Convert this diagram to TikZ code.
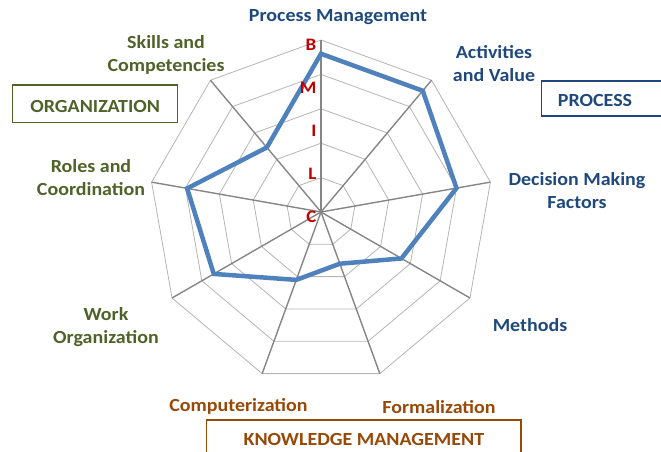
\documentclass[tikz,border=0pt]{standalone}
\usepackage{fontspec}
\setmainfont{Carlito}[FakeStretch=1.08]
\definecolor{orgcol}{HTML}{4F6228}
\definecolor{proccol}{HTML}{1F497D}
\definecolor{kmcol}{HTML}{984807}
\definecolor{levelcol}{HTML}{C00000}
\definecolor{seriescol}{HTML}{4F81BD}
\definecolor{spokecol}{HTML}{868686}
\definecolor{ringcol}{HTML}{B4B4B4}
\begin{document}
\begin{tikzpicture}[x=1pt,y=1pt,
  axislabel/.style={font=\bfseries\fontsize{18.5}{23.5}\selectfont, align=center, inner sep=0pt, yshift=-2.5pt},
  levellabel/.style={font=\bfseries\fontsize{17.5}{17.5}\selectfont, text=levelcol, anchor=east, inner sep=0pt, yshift=-1.5pt},
  groupbox/.style={draw, line width=1.3pt, font=\bfseries\fontsize{18.5}{18.5}\selectfont, inner sep=0pt}]
\useasboundingbox (0,0) rectangle (661,452);
% Set the chart centre and outer radius
\def\rmax{172}

\begin{scope}[shift={(321,240)}]
% Draw the five rings
\foreach \k in {1,...,5}{
  \draw[ringcol, line width=0.8pt] (90:{\k*\rmax/5}) \foreach \a in {50,10,...,-230}{ -- (\a:{\k*\rmax/5})} -- cycle;
}
% Draw the nine spokes
\foreach \a in {90,50,...,-230}{
  \draw[spokecol, line width=1.4pt] (0,0) -- (\a:\rmax);
}
% Draw the series
\draw[seriescol, line width=4.5pt] (90:{0.92*\rmax})
  \foreach \a/\v in {50/0.92, 10/0.80, -30/0.54, -70/0.32, -110/0.42, -150/0.72, -190/0.79, -230/0.49}{ -- (\a:{\v*\rmax})} -- cycle;
% Insert the level letters
\foreach \t [count=\k from 0] in {C,L,I,M,B}{
  \node[levellabel] (lvl\t) at (-4.5,{-3+43*\k}) {\t};
}
\end{scope}

% Axis names
\node[axislabel, text=proccol] (pm) at (338,437) {Process Management};
\node[axislabel, text=proccol] (av) at (494,391) {Activities\\and Value};
\node[axislabel, text=proccol] (dm) at (577,264) {Decision Making\\Factors};
\node[axislabel, text=proccol] (me) at (530,129) {Methods};
\node[axislabel, text=kmcol] (fo) at (439,47) {Formalization};
\node[axislabel, text=kmcol] (co) at (238.5,48) {Computerization};
\node[axislabel, text=orgcol] (wo) at (106,127.5) {Work\\Organization};
\node[axislabel, text=orgcol] (rc) at (91,277) {Roles and\\Coordination};
\node[axislabel, text=orgcol] (sc) at (166,399.5) {Skills and\\Competencies};

% Group boxes
\node[groupbox, draw=orgcol, text=orgcol, minimum width=165pt, minimum height=37.7pt, text height=17pt, text depth=0pt] (org) at (95.2,348) {ORGANIZATION};
\node[groupbox, draw=proccol, text=proccol, anchor=west, minimum height=35pt, inner xsep=16.6pt, text width=110pt, text height=17pt, text depth=0pt] (proc) at (540.7,353.5) {PROCESS};
\node[groupbox, draw=kmcol, text=kmcol, anchor=north, minimum width=314.3pt, minimum height=40pt] (km) at (363.9,32.7) {KNOWLEDGE MANAGEMENT};
\end{tikzpicture}
\end{document}
